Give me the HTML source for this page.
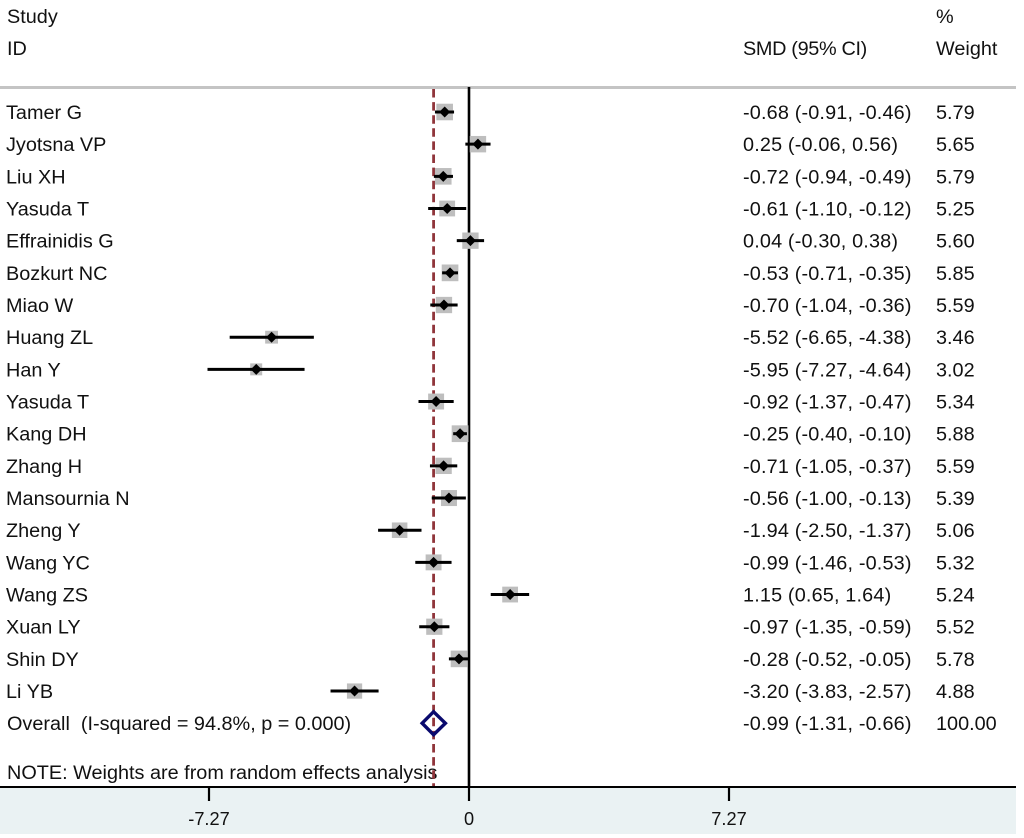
<!DOCTYPE html>
<html>
<head>
<meta charset="utf-8">
<title>Forest plot</title>
<style>
html,body{margin:0;padding:0;background:#fff;}
svg{display:block;}
text{font-family:"Liberation Sans",Arial,sans-serif;font-size:19.85px;fill:#111;}
text.tick{font-size:18.2px;}
text.ci{letter-spacing:0.16px;}
text.smd{letter-spacing:-0.33px;}
</style>
</head>
<body>
<svg id="chart" width="1024" height="838" viewBox="0 0 1024 838" xmlns="http://www.w3.org/2000/svg">
  <rect x="0" y="0" width="1024" height="838" fill="#ffffff"/>
  <rect x="0" y="787" width="1016" height="47" fill="#eaf2f3"/>
  <rect x="0" y="86" width="1016" height="3" fill="#c4c4c4"/>
  <text x="7" y="23">Study</text>
  <text x="7" y="55">ID</text>
  <text class="smd" x="743" y="55">SMD (95% CI)</text>
  <text x="936" y="23">%</text>
  <text x="936" y="55">Weight</text>
  <text x="7" y="779">NOTE: Weights are from random effects analysis</text>
  <g id="plot"></g>
</svg>
<script>
const studies = ["Tamer G","Jyotsna VP","Liu XH","Yasuda T","Effrainidis G","Bozkurt NC","Miao W","Huang ZL","Han Y","Yasuda T","Kang DH","Zhang H","Mansournia N","Zheng Y","Wang YC","Wang ZS","Xuan LY","Shin DY","Li YB"];
const effects = [-0.68,0.25,-0.72,-0.61,0.04,-0.53,-0.70,-5.52,-5.95,-0.92,-0.25,-0.71,-0.56,-1.94,-0.99,1.15,-0.97,-0.28,-3.20];
const lows = [-0.91,-0.06,-0.94,-1.10,-0.30,-0.71,-1.04,-6.65,-7.27,-1.37,-0.40,-1.05,-1.00,-2.50,-1.46,0.65,-1.35,-0.52,-3.83];
const highs = [-0.46,0.56,-0.49,-0.12,0.38,-0.35,-0.36,-4.38,-4.64,-0.47,-0.10,-0.37,-0.13,-1.37,-0.53,1.64,-0.59,-0.05,-2.57];
const weights = [5.79,5.65,5.79,5.25,5.60,5.85,5.59,3.46,3.02,5.34,5.88,5.59,5.39,5.06,5.32,5.24,5.52,5.78,4.88];
const overallLabel = "Overall  (I-squared = 94.8%, p = 0.000)";
const overallEffect = -0.99;
const overallLow = -1.31;
const overallHigh = -0.66;
const overallWeight = 100.00;
const xTicks = [-7.27,0,7.27];

const NS = "http://www.w3.org/2000/svg";
const plot = document.getElementById("plot");
const xScale = v => 469 + v * (260 / 7.27);
const yScale = i => 112 + i * 32.17;
const fmt = v => v.toFixed(2);

function make(tag, attrs, parent) {
  const el = document.createElementNS(NS, tag);
  for (const k in attrs) el.setAttribute(k, attrs[k]);
  (parent || plot).appendChild(el);
  return el;
}

// overall reference line
const refLine = make("line", {x1: xScale(overallEffect), x2: xScale(overallEffect), y1: 89, y2: 787, stroke: "#90353b", "stroke-width": 2.8, "stroke-dasharray": "8.5 4.6"});



// null line
const nullLine = make("line", {x1: xScale(0), x2: xScale(0), y1: 87, y2: 787, stroke: "#000", "stroke-width": 2.6});



// x axis
const axisLine = make("line", {x1: 0, x2: 1016, y1: 787, y2: 787, stroke: "#000", "stroke-width": 2});



xTicks.forEach(t => {
  const tick = make("line", {x1: xScale(t), x2: xScale(t), y1: 787, y2: 801, stroke: "#000", "stroke-width": 2.2});
  
  
  const label = make("text", {x: xScale(t), y: 825, "text-anchor": "middle", "class": "tick"});
  
  
  label.textContent = t === 0 ? "0" : fmt(t);
});

// study rows
studies.forEach((name, i) => {
  const y = yScale(i);
  const side = 6.9 * Math.sqrt(weights[i]);
  const box = make("rect", {x: xScale(effects[i]) - side / 2, y: y - side / 2, width: side, height: side, fill: "#bebebe"});
  
  
  const ci = make("line", {x1: xScale(lows[i]), x2: xScale(highs[i]), y1: y, y2: y, stroke: "#000", "stroke-width": 3, "stroke-linecap": "square"});
  
  
  const cx = xScale(effects[i]);
  const pt = make("polygon", {points: `${cx - 5.5},${y} ${cx},${y - 5.5} ${cx + 5.5},${y} ${cx},${y + 5.5}`, fill: "#000"});
  
  

  const tName = make("text", {x: 6, y: y + 7});
  
  
  tName.textContent = name;
  const tCi = make("text", {x: 743, y: y + 7, "class": "ci"});
  
  
  tCi.textContent = `${fmt(effects[i])} (${fmt(lows[i])}, ${fmt(highs[i])})`;
  const tW = make("text", {x: 936, y: y + 7});
  
  
  tW.textContent = fmt(weights[i]);
});

// overall row
const oy = yScale(studies.length);
const diamond = make("polygon", {points: `${xScale(overallLow)},${oy} ${xScale(overallEffect)},${oy - 11.5} ${xScale(overallHigh)},${oy} ${xScale(overallEffect)},${oy + 11.5}`, fill: "none", stroke: "#0a0a6e", "stroke-width": 3.4});


const oName = make("text", {x: 7, y: oy + 7, "xml:space": "preserve"});


oName.style.whiteSpace = "pre";
oName.textContent = overallLabel;
const oCi = make("text", {x: 743, y: oy + 7, "class": "ci"});


oCi.textContent = `${fmt(overallEffect)} (${fmt(overallLow)}, ${fmt(overallHigh)})`;
const oW = make("text", {x: 936, y: oy + 7});


oW.textContent = fmt(overallWeight);
</script>
</body>
</html>
